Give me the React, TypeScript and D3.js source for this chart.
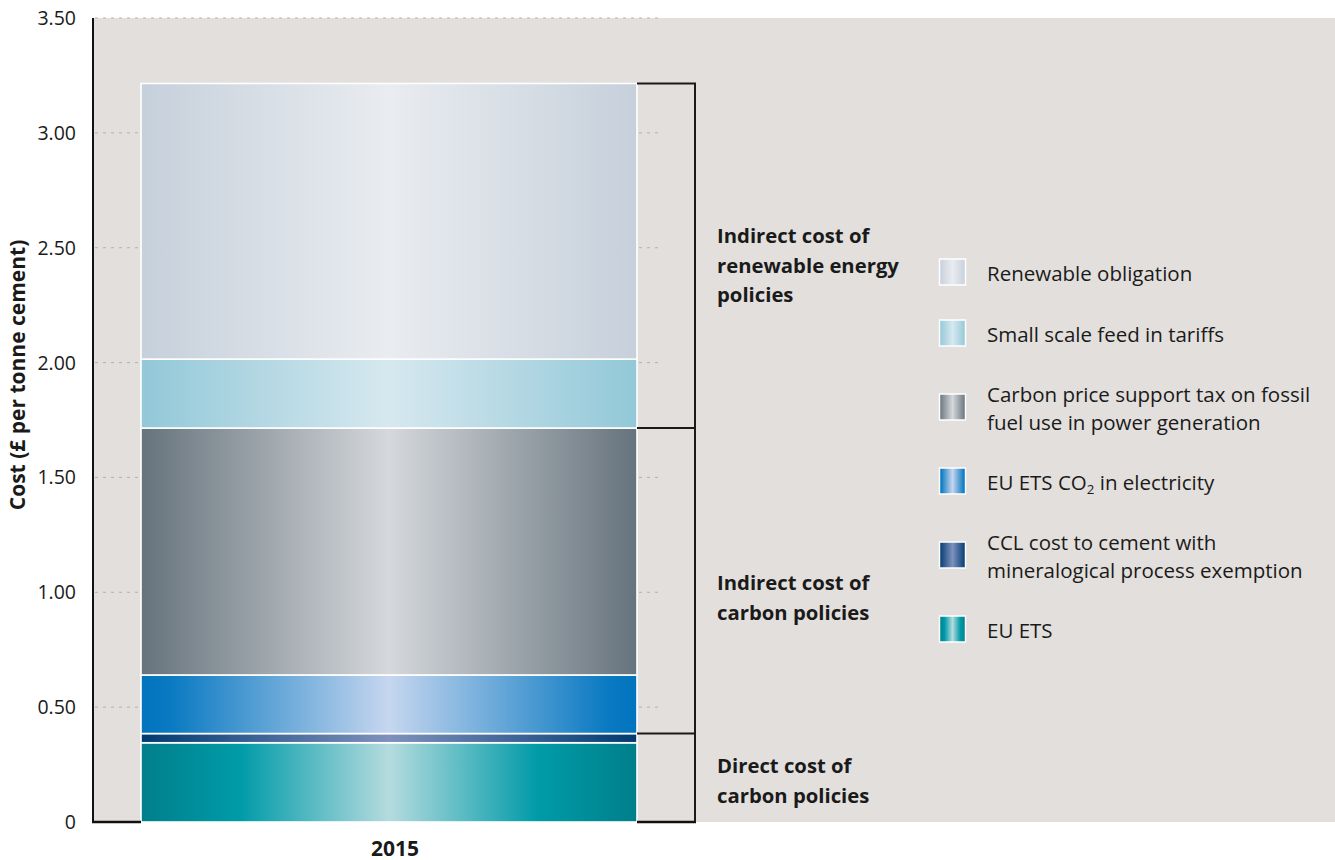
import React from 'react';
import * as d3 from 'd3';

const categories = ['2015'];
const seriesKeys = ['euEts', 'ccl', 'euEtsElec', 'cps', 'fit', 'ro'];
const seriesLabels = [
  ['EU ETS'],
  ['CCL cost to cement with', 'mineralogical process exemption'],
  ['EU ETS CO|2| in electricity'],
  ['Carbon price support tax on fossil', 'fuel use in power generation'],
  ['Small scale feed in tariffs'],
  ['Renewable obligation'],
];
const values2015 = [0.345, 0.04, 0.255, 1.075, 0.3, 1.2];
const yTicks = [0, 0.5, 1, 1.5, 2, 2.5, 3, 3.5];
const yTickLabels = ['0', '0.50', '1.00', '1.50', '2.00', '2.50', '3.00', '3.50'];
const groupSeries = [[0, 1], [2, 3], [4, 5]];
const groupLabels = [
  ['Direct cost of', 'carbon policies'],
  ['Indirect cost of', 'carbon policies'],
  ['Indirect cost of', 'renewable energy', 'policies'],
];
const yTitle = 'Cost (£ per tonne cement)';

// gradient stops (edge -> centre -> edge)
const gradients: Record<string, [number, string][]> = {
  euEts: [[0, '#007f8b'], [0.2, '#009ba8'], [0.5, '#b5dbde'], [0.8, '#009ba8'], [1, '#007f8b']],
  ccl: [[0, '#003a70'], [0.5, '#7f91bd'], [1, '#003a70']],
  euEtsElec: [[0, '#0074be'], [0.06, '#0a7ac2'], [0.5, '#c6d6ef'], [0.94, '#0a7ac2'], [1, '#0074be']],
  cps: [[0, '#66737c'], [0.5, '#d5d8dc'], [1, '#66737c']],
  fit: [[0, '#92c8d8'], [0.5, '#d6e8ef'], [1, '#92c8d8']],
  ro: [[0, '#c6d0db'], [0.5, '#e9ecf0'], [1, '#c6d0db']],
};

const W = 1335;
const H = 860;
const FONT = "'Open Sans', 'Noto Sans', sans-serif";

function renderLabel(s: string, fs: number) {
  const parts = s.split('|');
  if (parts.length === 1) return s;
  return (
    <>
      {parts[0]}
      <tspan fontSize={fs * 0.65} dy={4}>{parts[1]}</tspan>
      <tspan dy={-4}>{parts[2]}</tspan>
    </>
  );
}

export default function App() {
  const y = d3.scaleLinear().domain([0, 3.5]).range([822, 18]);
  const x = d3.scaleBand<string>().domain(categories).range([93, 685]).paddingInner(0).paddingOuter(0.0968);
  const axisLeft = 93;
  const axisRight = 695;
  const bx = x(categories[0]) as number;
  const bw = x.bandwidth();

  const stack = d3.stack<number[]>().keys(seriesKeys.map((_, i) => String(i))).value((d, k) => d[+k]);
  const stacked = stack([values2015]);

  const cum = (i: number) => stacked[i][0][1];

  const groupLabelFirstBaseline = [773, 590, 243];

  // legend layout (top to bottom = reverse series order)
  const legendOrder = seriesKeys.map((_, i) => seriesKeys.length - 1 - i);
  const legendCenters: number[] = [];
  let c = 272;
  legendOrder.forEach((si, j) => {
    if (j > 0) {
      const prev = seriesLabels[legendOrder[j - 1]].length - 1;
      const cur = seriesLabels[si].length - 1;
      c += 61 + 13 * (prev + cur);
    }
    legendCenters.push(c);
  });

  const legendFs = 20.5;

  return (
    <svg
      width={W}
      height={H}
      style={{ display: 'block', position: 'absolute', left: 0, top: 0, background: '#fff' }}
      fontFamily={FONT}
    >
      <defs>
        {seriesKeys.map((k) => (
          <linearGradient id={`g-${k}`} key={k} x1="0" x2="1" y1="0" y2="0">
            {gradients[k].map(([o, col], i) => (
              <stop key={i} offset={o} stopColor={col} />
            ))}
          </linearGradient>
        ))}
      </defs>
      <rect x={axisLeft} y={18} width={W - axisLeft} height={822 - 18} fill="#e2dfdc" />

      {/* gridlines */}
      {yTicks.slice(1).map((t) => (
        <line key={t} x1={axisLeft + 2} x2={660} y1={y(t)} y2={y(t)} stroke="#b3b1ae" strokeWidth={1} strokeDasharray="3 5" />
      ))}

      {/* bars */}
      {stacked.map((s, i) => (
        <rect
          key={seriesKeys[i]}
          x={bx}
          y={y(s[0][1])}
          width={bw}
          height={y(s[0][0]) - y(s[0][1])}
          fill={`url(#g-${seriesKeys[i]})`}
          stroke="#ffffff"
          strokeWidth={1.6}
        />
      ))}

      {/* axes */}
      <line x1={axisLeft} x2={axisLeft} y1={18} y2={823} stroke="#111" strokeWidth={2} />
      <line x1={axisLeft - 1} x2={bx} y1={822} y2={822} stroke="#111" strokeWidth={2.5} />
      <line x1={bx + bw} x2={axisRight + 1} y1={822} y2={822} stroke="#111" strokeWidth={2.5} />

      {yTicks.map((t, i) => (
        <text key={t} x={76} y={y(t)} dy="0.36em" textAnchor="end" fontSize={19.5} fill="#1a1a1a">
          {yTickLabels[i]}
        </text>
      ))}
      <text
        transform={`translate(25,375) rotate(-90)`}
        textAnchor="middle"
        fontSize={21}
        fontWeight="bold"
        fill="#1a1a1a"
      >
        {yTitle}
      </text>
      <text x={bx + bw / 2 + 6} y={856} textAnchor="middle" fontSize={21} fontWeight="bold" fill="#1a1a1a">
        {categories[0]}
      </text>

      {/* brackets */}
      <line x1={axisRight} x2={axisRight} y1={y(cum(seriesKeys.length - 1))} y2={822} stroke="#1a1a1a" strokeWidth={2} />
      {groupSeries.map((g, gi) => (
        <g key={gi}>
          <line
            x1={bx + bw}
            x2={axisRight + 1}
            y1={y(cum(g[g.length - 1]))}
            y2={y(cum(g[g.length - 1]))}
            stroke="#1a1a1a"
            strokeWidth={2}
          />
          {groupLabels[gi].map((ln, li) => (
            <text key={li} x={717} y={groupLabelFirstBaseline[gi] + li * 29.5} fontSize={20.3} fontWeight="bold" fill="#1a1a1a">
              {ln}
            </text>
          ))}
        </g>
      ))}

      {/* legend */}
      {legendOrder.map((si, j) => {
        const cy = legendCenters[j];
        const lines = seriesLabels[si];
        const first = cy + 9 - ((lines.length - 1) * 27.5) / 2;
        return (
          <g key={si}>
            <rect x={939.5} y={cy - 13} width={26} height={26} fill={`url(#g-${seriesKeys[si]})`} stroke="#fff" strokeWidth={1.5} />
            {lines.map((ln, li) => (
              <text key={li} x={987} y={first + li * 27.5} fontSize={legendFs} fill="#1a1a1a">
                {renderLabel(ln, legendFs)}
              </text>
            ))}
          </g>
        );
      })}
    </svg>
  );
}
